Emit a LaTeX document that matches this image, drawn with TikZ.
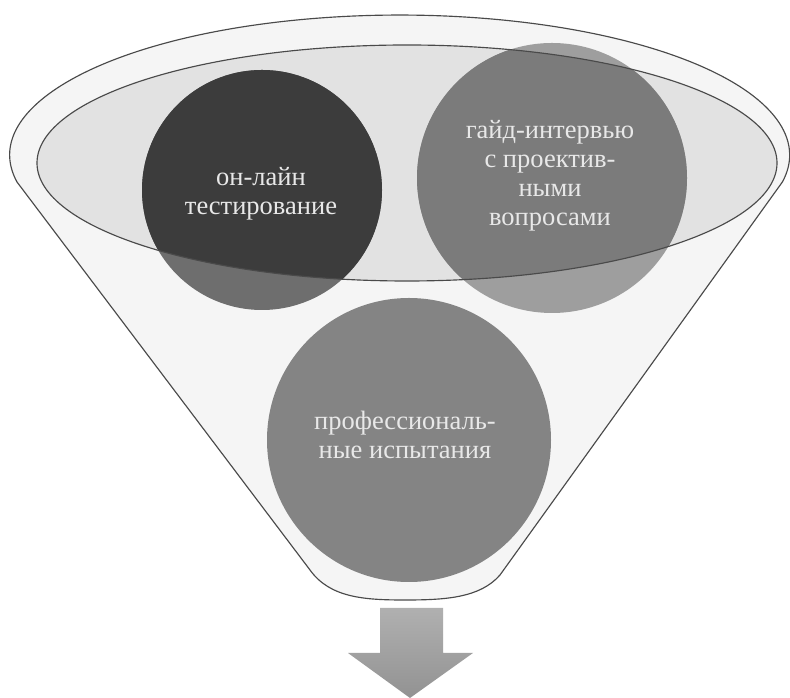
\documentclass[tikz,border=0pt]{standalone}
\usepackage{fontspec}
\setmainfont{Liberation Serif}
\usetikzlibrary{shapes.geometric}
\definecolor{rimc}{HTML}{4A4A4A}
\definecolor{bandc}{HTML}{F5F5F5}
\definecolor{ellc}{HTML}{E2E2E2}
\definecolor{dAin}{HTML}{3C3C3C}
\definecolor{dAout}{HTML}{6E6E6E}
\definecolor{dBin}{HTML}{7B7B7B}
\definecolor{dBout}{HTML}{9E9E9E}
\definecolor{dC}{HTML}{848484}
\definecolor{labelc}{HTML}{E8E8E8}
\definecolor{arrowtop}{HTML}{B0B0B0}
\definecolor{arrowbot}{HTML}{929292}
\begin{document}
\begin{tikzpicture}[x=1pt,y=1pt,
  lbl/.style={text=labelc, font=\fontsize{26.5}{29}\selectfont, align=center, inner sep=0pt},
  disc/.style={circle, inner sep=0pt, draw=none},
  rim/.style={draw=rimc, line width=1.15pt}]
\useasboundingbox (0,0) rectangle (790,698);
\fill[white] (0,0) rectangle (790,698);
% funnel body
\draw[rim, fill=bandc] (310,128) -- (17,516)
  arc[start angle=191.1, end angle=-11.1, x radius=390, y radius=140]
  -- (500,123) .. controls (480,100) and (445,98) .. (405,98)
  .. controls (365,98) and (330,100) .. (310,128) -- cycle;
% inner ellipse
\node[ellipse, minimum width=740pt, minimum height=236pt, fill=ellc, inner sep=0pt] (top) at (407,535) {};
% circles
\node[disc, minimum size=240pt, fill=dAout] (c1) at (262,508) {};
\node[disc, minimum size=270pt, fill=dBout] (c2) at (552,520) {};
\node[disc, minimum size=284pt, fill=dC] (c3) at (409,258) {};
\begin{scope}
  \clip (top.center) ellipse [x radius=370pt, y radius=118pt];
  \fill[dAin] (c1.center) circle [radius=120pt];
  \fill[dBin] (c2.center) circle [radius=135pt];
\end{scope}
\draw[rim] (top.center) ellipse [x radius=370pt, y radius=118pt];
% labels
\node[lbl] (t1) at (261,504) {он-лайн\\тестирование};
\node[lbl] (t2) at (550,522) {гайд-интервью\\с проектив-\\ными\\вопросами};
\node[lbl] (t3) at (405,263) {профессиональ-\\ные испытания};
% output arrow
\shade[top color=arrowtop, bottom color=arrowbot]
  (380,90) -- (443,90) -- (443,45) -- (473,45) -- (410,0) -- (348,45) -- (380,45) -- cycle;
\end{tikzpicture}
\end{document}
